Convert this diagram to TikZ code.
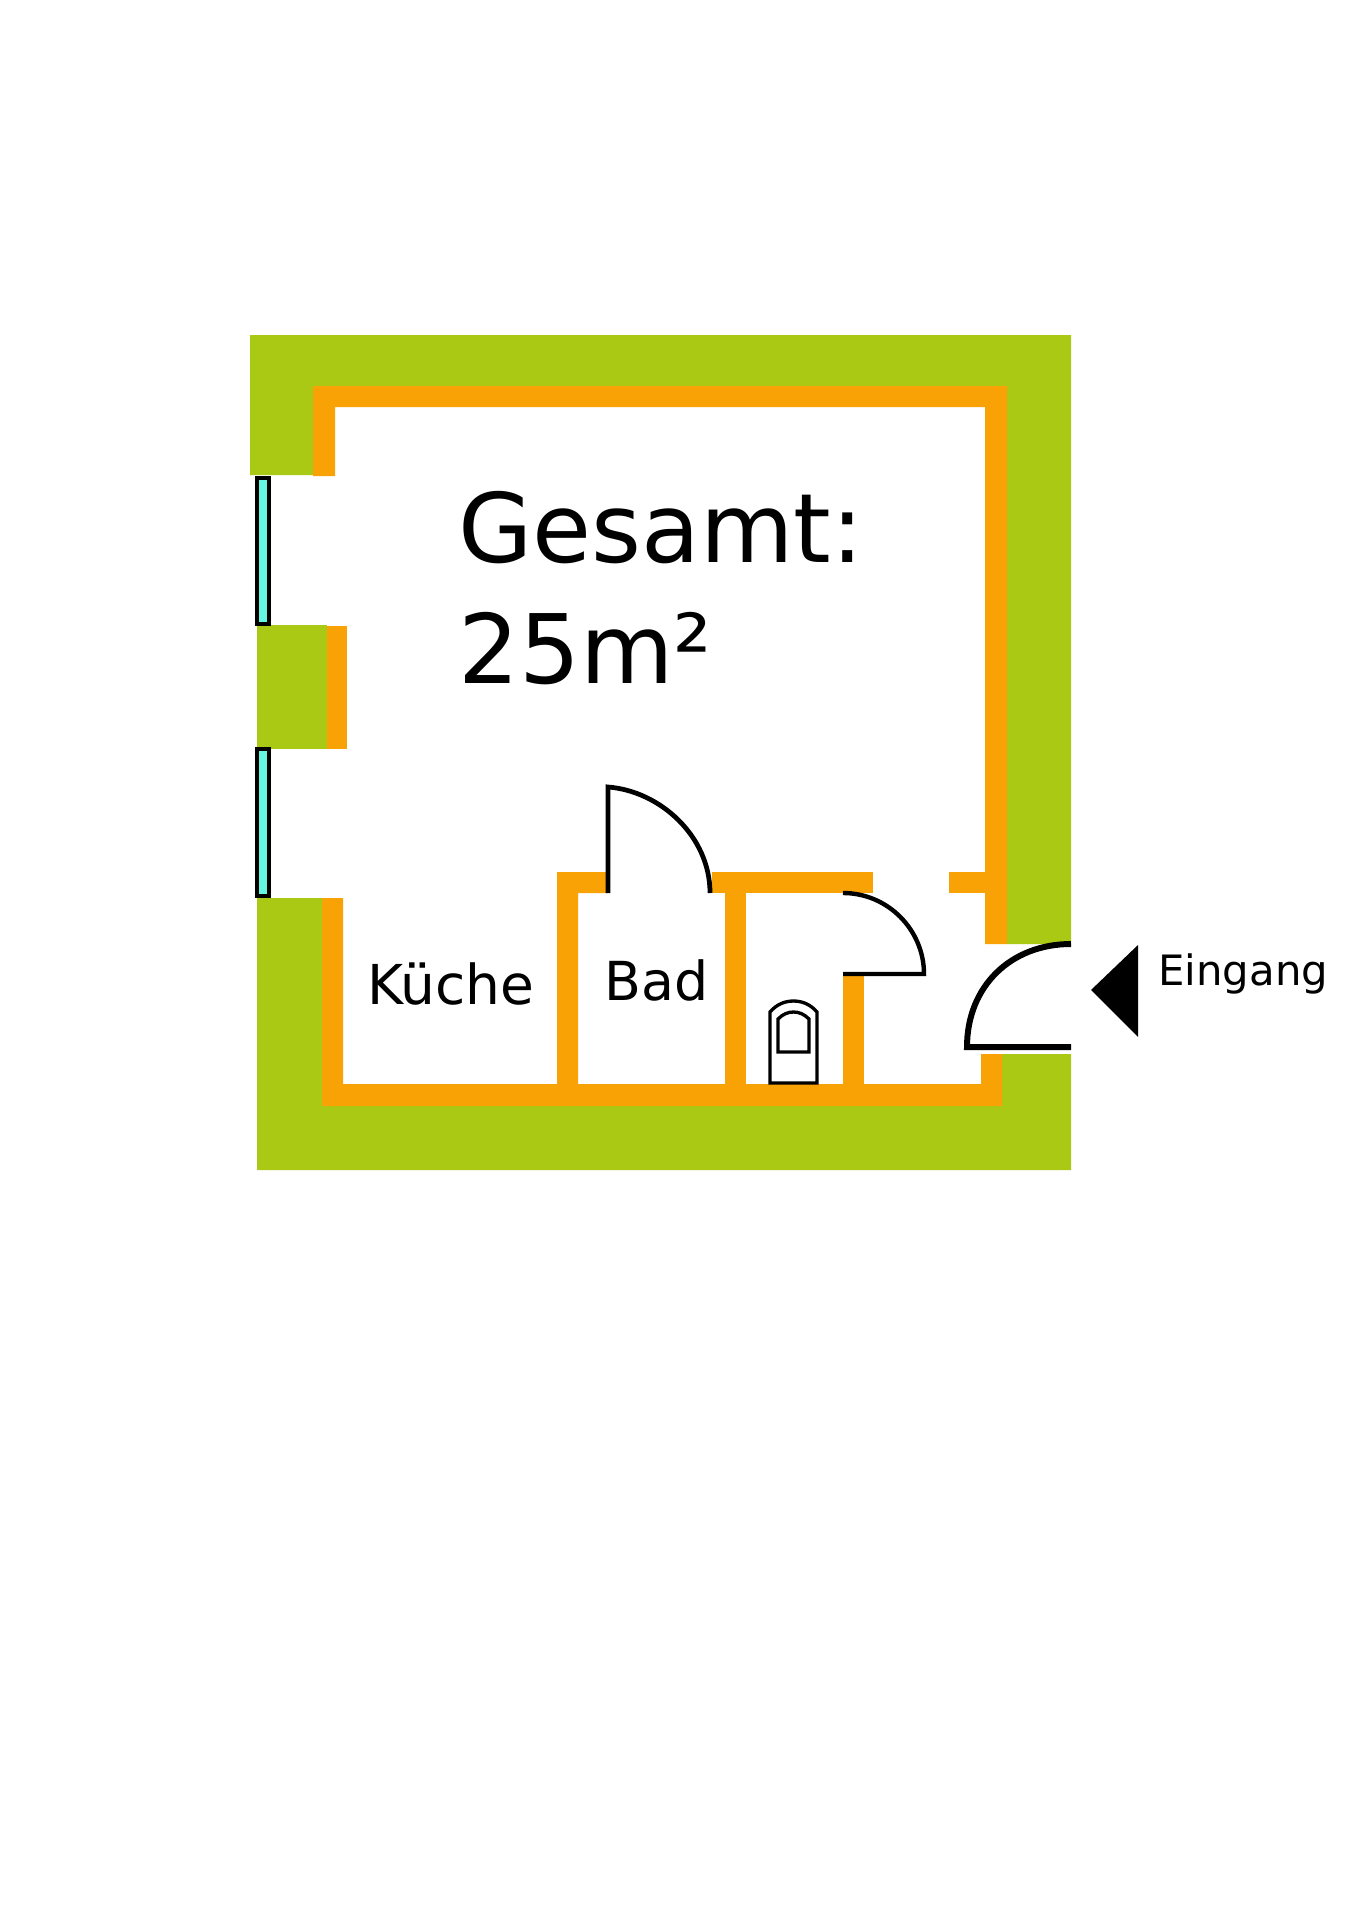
\documentclass[tikz,border=0pt]{standalone}
\usepackage{fontspec}
\setmainfont{DejaVu Sans}
\definecolor{mauergruen}{RGB}{170,201,20}
\definecolor{putzorange}{RGB}{249,162,5}
\definecolor{glastuerkis}{RGB}{102,245,225}
\tikzset{
  mauer/.style={fill=mauergruen},
  putz/.style={fill=putzorange},
  fenster/.style={draw=black,fill=glastuerkis,line width=2.3pt},
  tuer/.style={draw=black,line width=2.7pt,miter limit=10},
  klo/.style={draw=black,fill=white,line width=1.9pt},
  schrift/.style={anchor=base west,inner sep=0pt,text=black}
}
\begin{document}
\begin{tikzpicture}[x=0.02cm,y=-0.02cm]
                \useasboundingbox (0,0) rectangle (1358,1920);
                \fill [mauer] (250,335) -- (1071,335) -- (1071,944) -- (1007,944) -- (1007,386) -- (313,386) -- (313,475) -- (250,475) -- cycle ;
                \fill [mauer] (257,625) rectangle (327,749);
                \fill [mauer] (257,898) -- (322,898) -- (322,1105) -- (1002,1105) -- (1002,1054) -- (1071,1054) -- (1071,1170) -- (257,1170) -- cycle ;
                \fill [putz] (313,476) -- (313,386) -- (1007,386) -- (1007,944) -- (985,944) -- (985,407) -- (335,407) -- (335,476) -- cycle ;
                \fill [putz] (327,626) rectangle (347,749);
                \fill [putz] (949,872) rectangle (985,893);
                \fill [putz] (322,898) -- (343,898) -- (343,1084) -- (981,1084) -- (981,1054) -- (1002,1054) -- (1002,1106) -- (322,1106) -- cycle ;
                \fill [putz] (557,1084) -- (557,872) -- (608,872) -- (608,893) -- (578,893) -- (578,1084) -- cycle ;
                \fill [putz] (712,872) rectangle (873,893);
                \fill [putz] (725,893) rectangle (746,1084);
                \fill [putz] (843,974) rectangle (864,1084);
                \draw [fenster] (257,478) rectangle (269,624);
                \draw [fenster] (257,749) rectangle (269,896);
                \draw [tuer] (608,893) -- (608,787) .. controls (660,791) and (710,836) .. (710,893) ;
                \draw [tuer,line width=2.5pt] (843,893) .. controls (888,893) and (924,930) .. (924,974) -- (843,974) ;
                \draw [tuer,line width=3.4pt] (1071,944) .. controls (1011,944) and (967,986) .. (967,1047) -- (1071,1047) ;
                \draw [klo] (770,1083) -- (770,1012) .. controls (776,1005) and (784,1001) .. (793.5,1001) .. controls (803,1001) and (811,1005) .. (817,1012) -- (817,1083) -- cycle ;
                \draw [klo] (778,1052) -- (778,1019) .. controls (783,1014) and (788,1012) .. (793.5,1012) .. controls (799,1012) and (804,1014) .. (809,1019) -- (809,1052) -- cycle ;
                \fill [black] (1091,990) -- (1138,945) -- (1138,1037) -- cycle ;
                \draw (458,562) node [schrift,font=\fontsize{54.6pt}{60pt}\selectfont] (gesamt) {Gesamt:} ;
                \draw (458,683) node [schrift,font=\fontsize{54.6pt}{60pt}\selectfont] (flaeche) {25m²} ;
                \draw (367,1004) node [schrift,font=\fontsize{31.3pt}{36pt}\selectfont] (kueche) {Küche} ;
                \draw (604,1000) node [schrift,font=\fontsize{30.6pt}{36pt}\selectfont] (bad) {Bad} ;
                \draw (1158,985) node [schrift,font=\fontsize{23.8pt}{28pt}\selectfont] (eingang) {Eingang} ;
            \end{tikzpicture}
\end{document}
